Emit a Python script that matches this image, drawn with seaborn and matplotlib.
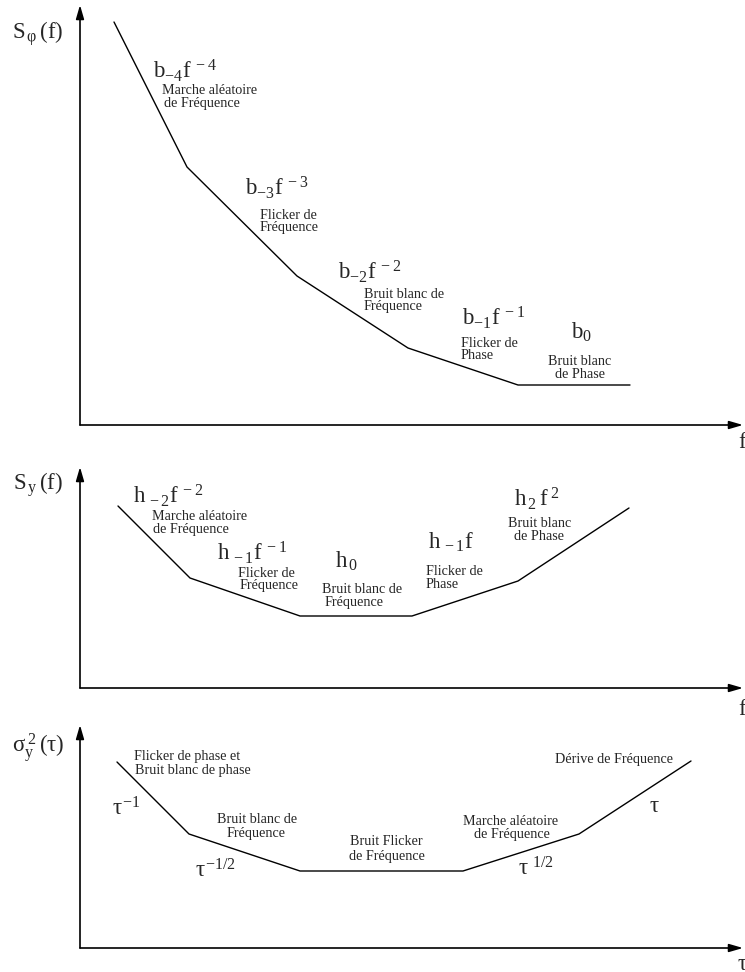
import matplotlib
matplotlib.use("Agg")
import matplotlib.pyplot as plt
import seaborn as sns
import numpy as np
import pandas as pd

# ---------------- data (units: 1 = 100 px of the original drawing) ----------
# Panel 1 : S_phi(f)
p1_x = [0.34, 1.07, 2.17, 3.28, 4.38, 5.50]
p1_y = [4.03, 2.58, 1.49, 0.77, 0.40, 0.40]
# Panel 2 : S_y(f)
p2_x = [0.38, 1.10, 2.20, 3.32, 4.38, 5.49]
p2_y = [1.82, 1.10, 0.72, 0.72, 1.07, 1.80]
# Panel 3 : sigma_y^2(tau)
p3_x = [0.37, 1.09, 2.20, 3.83, 4.99, 6.11]
p3_y = [1.86, 1.14, 0.77, 0.77, 1.14, 1.87]

axis_labels_y = [r"$S_{\,\varphi}\,(f)$", r"$S_{\,y}\,(f)$", r"$\sigma_y^{\,2}\,(\tau)$"]
axis_labels_x = [r"$f$", r"$f$", r"$\tau$"]

p1_formulas = [r"$b_{-4}f^{\,-4}$", r"$b_{-3}f^{\,-3}$", r"$b_{-2}f^{\,-2}$",
               r"$b_{-1}f^{\,-1}$", r"$b_0$"]
p1_notes = [["Marche aléatoire", "de Fréquence"], ["Flicker de", "Fréquence"],
            ["Bruit blanc de", "Fréquence"], ["Flicker de", "Phase"],
            ["Bruit blanc", "de Phase"]]
p2_formulas = [r"$h_{\,-2}f^{\,-2}$", r"$h_{\,-1}f^{\,-1}$", r"$h_{\,0}$",
               r"$h_{\,-1}f$", r"$h_{\,2}\,f^{\,2}$"]
p2_notes = [["Marche aléatoire", "de Fréquence"], ["Flicker de", "Fréquence"],
            ["Bruit blanc de", "Fréquence"], ["Flicker de", "Phase"],
            ["Bruit blanc", "de Phase"]]
p3_formulas = [r"$\tau^{-1}$", r"$\tau^{-1/2}$", r"$\tau^{\ 1/2}$", r"$\tau$"]
p3_notes = [["Flicker de phase et", "Bruit blanc de phase"], ["Bruit blanc de", "Fréquence"],
            ["Bruit Flicker", "de Fréquence"], ["Marche aléatoire", "de Fréquence"],
            ["Dérive de Fréquence"]]

# ---------------- layout (pixel positions in the 745x972 picture) -----------
W, H = 745, 972
AX_LEFT, AX_RIGHT = 80, 743
panels = [  # (top px, x-axis px)
    (5, 425),
    (467, 688),
    (725, 948),
]
# formula positions: (left px, baseline px, ha)
p1_form_pos = [(153, 78, "left"), (245, 195, "left"), (338, 279, "left"),
               (462, 325, "left"), (581, 339, "center")]
p1_note_pos = [[(162, 94, "left"), (164, 107, "left")],
               [(260, 219, "left"), (260, 231, "left")],
               [(364, 298, "left"), (364, 310, "left")],
               [(461, 347, "left"), (461, 359, "left")],
               [(580, 365, "center"), (580, 378, "center")]]
p2_form_pos = [(133, 503, "left"), (217, 560, "left"), (335, 568, "left"),
               (428, 549, "left"), (514, 506, "left")]
p2_note_pos = [[(152, 520, "left"), (153, 533, "left")],
               [(238, 577, "left"), (240, 589, "left")],
               [(322, 593, "left"), (325, 606, "left")],
               [(426, 575, "left"), (426, 588, "left")],
               [(508, 527, "left"), (514, 540, "left")]]
p3_form_pos = [(112, 815, "left"), (195, 877, "left"), (518, 875, "left"),
               (649, 812, "left")]
p3_note_pos = [[(134, 760, "left"), (135, 774, "left")],
               [(217, 823, "left"), (227, 837, "left")],
               [(350, 845, "left"), (349, 860, "left")],
               [(463, 825, "left"), (474, 838, "left")],
               [(555, 763, "left")]]
ylab_pos = [(12, 39), (13, 490), (12, 753)]
xlab_pos = [(738, 448), (738, 715), (737, 970)]

# ---------------- style -----------------------------------------------------
sns.set_theme(style="white")
plt.rcParams["font.family"] = ["Liberation Serif", "DejaVu Serif"]
plt.rcParams["mathtext.fontset"] = "custom"
plt.rcParams["mathtext.rm"] = "Liberation Serif"
plt.rcParams["mathtext.it"] = "Liberation Serif"
plt.rcParams["mathtext.bf"] = "Liberation Serif:bold"

FORM_SIZE = 16.5
NOTE_SIZE = 10.2
LAB_SIZE = 16.5

fig = plt.figure(figsize=(W / 100, H / 100), dpi=100)
fig.patch.set_facecolor("white")

data = [(p1_x, p1_y), (p2_x, p2_y), (p3_x, p3_y)]
forms = [p1_formulas, p2_formulas, p3_formulas]
form_pos = [p1_form_pos, p2_form_pos, p3_form_pos]
notes = [p1_notes, p2_notes, p3_notes]
note_pos = [p1_note_pos, p2_note_pos, p3_note_pos]

for i, ((top, base), (xs, ys)) in enumerate(zip(panels, data)):
    rect = [AX_LEFT / W, (H - base) / H, (AX_RIGHT - AX_LEFT) / W, (base - top) / H]
    ax = fig.add_axes(rect)
    ax.set_xlim(0, (AX_RIGHT - AX_LEFT) / 100)
    ax.set_ylim(0, (base - top) / 100)
    for s in ax.spines.values():
        s.set_visible(False)
    ax.set_xticks([])
    ax.set_yticks([])
    ax.patch.set_alpha(0)

    df = pd.DataFrame({"x": xs, "y": ys})
    sns.lineplot(data=df, x="x", y="y", ax=ax, color="black", linewidth=1.0,
                 estimator=None, sort=False)
    ax.set_xlabel("")
    ax.set_ylabel("")

    # axes with arrows
    arrow = dict(arrowstyle="-|>,head_length=0.55,head_width=0.16",
                 mutation_scale=15, color="black", lw=1.2, shrinkA=0, shrinkB=0)
    ax.annotate("", xy=(0, 1), xytext=(0, 0), xycoords="axes fraction",
                textcoords="axes fraction", arrowprops=arrow, annotation_clip=False)
    ax.annotate("", xy=(1, 0), xytext=(0, 0), xycoords="axes fraction",
                textcoords="axes fraction", arrowprops=arrow, annotation_clip=False)

    def px(x, y):
        return (x - AX_LEFT) / 100, (base - y) / 100

    lx, ly = px(*ylab_pos[i])
    ax.text(lx, ly, axis_labels_y[i], fontsize=LAB_SIZE, ha="left", va="baseline",
            clip_on=False)
    lx, ly = px(*xlab_pos[i])
    ax.text(lx, ly, axis_labels_x[i], fontsize=LAB_SIZE, ha="left", va="baseline",
            clip_on=False)

    for txt, (x0, y0, ha) in zip(forms[i], form_pos[i]):
        tx, ty = px(x0, y0)
        ax.text(tx, ty, txt, fontsize=FORM_SIZE, ha=ha, va="baseline", clip_on=False)
    for lines, poss in zip(notes[i], note_pos[i]):
        for line, (x0, y0, ha) in zip(lines, poss):
            tx, ty = px(x0, y0)
            ax.text(tx, ty, line, fontsize=NOTE_SIZE, ha=ha, va="baseline",
                    clip_on=False)

fig.savefig("out.png", dpi=100)
